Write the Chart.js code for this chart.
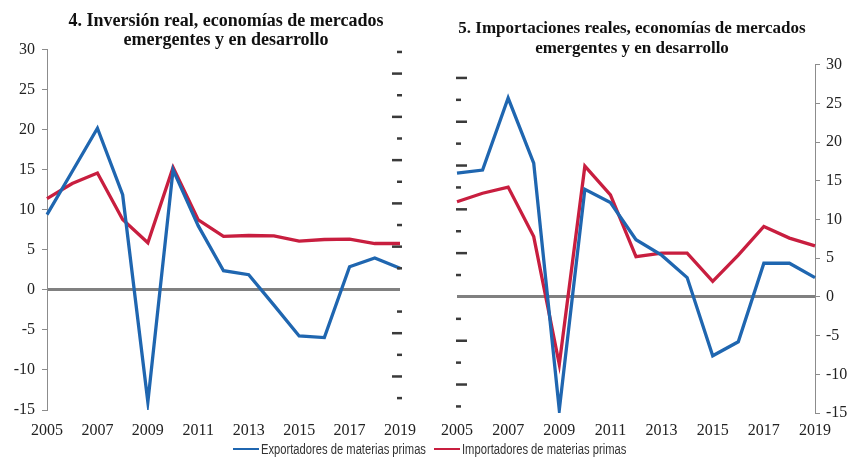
<!DOCTYPE html>
<html>
<head>
<meta charset="utf-8">
<script src="https://cdn.jsdelivr.net/npm/chart.js@4.4.1/dist/chart.umd.min.js"></script>
<style>
html,body{margin:0;padding:0;background:#fff;}
body{width:854px;height:459px;position:relative;overflow:hidden;}
#w1{position:absolute;left:0;top:0;width:452px;height:445px;}
#w2{position:absolute;left:410px;top:0;width:444px;height:445px;}
#legend{position:absolute;left:233px;top:441px;height:16px;display:flex;align-items:center;
  font-family:"Liberation Sans Narrow","Arial Narrow","Liberation Sans",sans-serif;font-size:14px;color:#333;white-space:nowrap;}
#legend .ln{display:inline-block;width:26px;height:2px;margin-right:2px;}
#legend .it{display:flex;align-items:center;margin-right:8px;}
#legend .tx{display:inline-block;width:165px;white-space:nowrap;}
#legend .tx span{display:inline-block;transform:scaleX(0.8);transform-origin:0 50%;}
</style>
</head>
<body>
<div id="w1"><canvas id="c1"></canvas></div>
<div id="w2"><canvas id="c2"></canvas></div>
<div id="legend">
  <span class="it"><span class="ln" style="background:#1f66b0"></span><span class="tx"><span>Exportadores de materias primas</span></span></span>
  <span class="it"><span class="ln" style="background:#c81e3f"></span><span class="tx"><span>Importadores de materias primas</span></span></span>
</div>
<script>
// ---- data ----
const years = ['2005','2006','2007','2008','2009','2010','2011','2012','2013','2014','2015','2016','2017','2018','2019'];
const seriesNames = ['Exportadores de materias primas','Importadores de materias primas'];
const invExport = [9.4, 14.8, 20.2, 11.9, -14.0, 15.0, 8.0, 2.4, 1.9, -1.9, -5.75, -5.95, 2.9, 4.0, 2.7];
const invImport = [11.4, 13.3, 14.6, 8.8, 5.9, 15.3, 8.75, 6.7, 6.8, 6.75, 6.1, 6.3, 6.35, 5.8, 5.8];
const impExport = [16.0, 16.4, 25.7, 17.3, -14.6, 13.9, 12.2, 7.4, 5.4, 2.5, -7.6, -5.8, 4.35, 4.35, 2.5];
const impImport = [12.3, 13.4, 14.2, 7.8, -8.7, 16.9, 13.2, 5.2, 5.65, 5.65, 2.0, 5.4, 9.1, 7.6, 6.6];
const yMin = -15, yMax = 30, yStep = 5;
const title1 = ['4. Inversión real, economías de mercados','emergentes y en desarrollo'];
const title2 = ['5. Importaciones reales, economías de mercados','emergentes y en desarrollo'];

// ---- styles ----
const BLUE = '#1f66b0', RED = '#c81e3f', AXIS = '#8c8c8c', ZERO = '#808080', TXT = '#222';
const serif = '"Liberation Serif","Times New Roman",serif';

const sideDashes = {
  id: 'sideDashes',
  afterDatasetsDraw(chart, args, opts) {
    const s = chart.scales.yd; if (!s) return;
    const ctx = chart.ctx, ca = chart.chartArea;
    ctx.save();
    ctx.strokeStyle = '#3a3a3a'; ctx.lineWidth = 2.5;
    for (let v = Math.ceil(s.min); v <= Math.floor(s.max); v++) {
      if (v === 0) continue;
      const y = s.getPixelForValue(v);
      const len = (v % 2 === 0) ? opts.long : opts.short;
      let x0, x1;
      if (opts.side === 'right') { x1 = ca.right + 2; x0 = x1 - len; }
      else { x0 = ca.left - 1; x1 = x0 + len; }
      ctx.beginPath(); ctx.moveTo(x0, y); ctx.lineTo(x1, y); ctx.stroke();
    }
    ctx.restore();
  }
};

function makeChart(id, title, exp, imp, o) {
  return new Chart(document.getElementById(id), {
    type: 'line',
    data: {
      labels: years,
      datasets: [
        {label: seriesNames[0], data: exp, borderColor: BLUE, borderWidth: 3.3, pointRadius: 0, tension: 0, yAxisID: 'y'},
        {label: seriesNames[1], data: imp, borderColor: RED, borderWidth: 3.3, pointRadius: 0, tension: 0, yAxisID: 'y'}
      ]
    },
    plugins: [sideDashes],
    options: {
      responsive: true, maintainAspectRatio: false, animation: false,
      layout: {padding: 0},
      plugins: {
        legend: {display: false}, tooltip: {enabled: false},
        title: {display: true, text: title, color: '#111',
          font: {family: serif, size: o.titleSize, weight: 'bold', lineHeight: o.titleLH},
          padding: {top: o.titleTop, bottom: o.titleBottom}},
        sideDashes: {side: o.dashSide, long: o.dashLong, short: o.dashShort}
      },
      scales: {
        x: {
          type: 'category', offset: false,
          grid: {display: false, drawTicks: false},
          border: {display: false},
          afterFit: s => { s.height = o.xHeight; },
          ticks: {autoSkip: false, maxRotation: 0, padding: o.xPad, color: TXT,
            font: {family: serif, size: 16},
            callback: (v, i) => (i % 2 === 0 ? years[i] : '')}
        },
        y: {
          position: o.yPos, min: yMin, max: yMax,
          afterFit: s => { s.width = o.yWidth; },
          ticks: {stepSize: yStep, padding: o.yPad, color: TXT, font: {family: serif, size: 16}},
          border: {display: true, color: AXIS, width: 1},
          grid: {drawOnChartArea: true, drawTicks: true, tickLength: 5, tickColor: AXIS, tickWidth: 1,
            color: c => (c.tick && c.tick.value === 0 ? ZERO : 'rgba(0,0,0,0)'),
            lineWidth: c => (c.tick && c.tick.value === 0 ? 3 : 1)}
        },
        yd: {
          position: o.dashSide, min: o.dMin, max: o.dMax,
          afterFit: s => { s.width = o.dWidth; },
          ticks: {display: false, stepSize: 1},
          grid: {display: false, drawTicks: false},
          border: {display: false}
        }
      }
    }
  });
}

makeChart('c1', title1, invExport, invImport, {
  titleSize: 18, titleLH: 1.05, titleTop: 12, titleBottom: 0,
  xHeight: 35, xPad: 11, yPos: 'left', yWidth: 47, yPad: 7,
  dashSide: 'right', dWidth: 52, dMin: -5.55, dMax: 11.1, dashLong: 10, dashShort: 5
});
makeChart('c2', title2, impExport, impImport, {
  titleSize: 17, titleLH: 1.2, titleTop: 18, titleBottom: 6,
  xHeight: 32, xPad: 8, yPos: 'right', yWidth: 39, yPad: 6,
  dashSide: 'left', dWidth: 47, dMin: -5.3, dMax: 10.6, dashLong: 11, dashShort: 5
});
</script>
</body>
</html>
